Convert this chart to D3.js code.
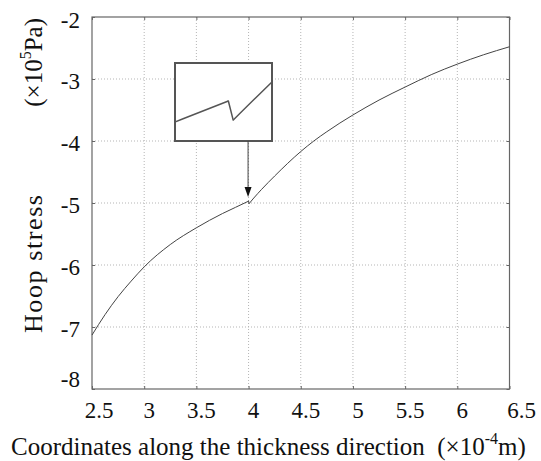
<!DOCTYPE html>
<html>
<head>
<meta charset="utf-8">
<script src="https://cdn.jsdelivr.net/npm/d3@7"></script>
<style>
  body { margin: 0; background: #fff; }
  svg text { font-family: "Liberation Serif", "Times New Roman", "DejaVu Serif", serif; fill: #111; white-space: pre; }
</style>
</head>
<body>
<svg id="chart" width="541" height="461"></svg>
<script>
// data (x in 1e-4 m, hoop stress in 1e5 Pa)
const thickness = [2.5, 2.625, 2.75, 2.875, 3.0, 3.25, 3.5, 3.75, 3.875, 4.0,
                   4.005, 4.05, 4.125, 4.25, 4.375, 4.5, 4.625, 4.75, 4.875, 5.0, 5.25, 5.5, 5.75, 6.0, 6.25, 6.5];
const hoopStress = [-7.13, -6.80, -6.51, -6.26, -6.03, -5.67, -5.40, -5.17, -5.07, -4.97,
                    -5.01, -4.92, -4.78, -4.565, -4.36, -4.17, -4.00, -3.85, -3.71, -3.58, -3.34, -3.13, -2.93, -2.76, -2.61, -2.48];
const jumpAt = 4.0;
const xTicks = [2.5, 3, 3.5, 4, 4.5, 5, 5.5, 6, 6.5];
const yTicks = [-8, -7, -6, -5, -4, -3, -2];
const insetXRange = [3.945, 4.045];
const insetYRange = [-5.054, -4.89];

const svg = d3.select("#chart");
const plotL = 92, plotR = 509.5, plotT = 17, plotB = 389;

const x = d3.scaleLinear().domain([2.5, 6.5]).range([plotL, plotR]);
const y = d3.scaleLinear().domain([-8, -2]).range([plotB, plotT]);

// grid
svg.append("g")
  .selectAll("line")
  .data(xTicks.slice(1, -1))
  .enter().append("line")
  .attr("x1", d => x(d)).attr("x2", d => x(d))
  .attr("y1", plotT).attr("y2", plotB)
  .style("stroke", "#b5b5b5").style("stroke-width", 1).style("stroke-dasharray", "1,2");
svg.append("g")
  .selectAll("line")
  .data(yTicks.slice(1, -1))
  .enter().append("line")
  .attr("y1", d => y(d)).attr("y2", d => y(d))
  .attr("x1", plotL).attr("x2", plotR)
  .style("stroke", "#b5b5b5").style("stroke-width", 1).style("stroke-dasharray", "1,2");

// axes with short inward ticks
const axisStyle = g => {
  g.select(".domain").remove();
  g.selectAll("line").style("stroke", "#666");
};
svg.append("g").attr("transform", `translate(0,${plotB})`)
  .call(d3.axisBottom(x).tickValues(xTicks).tickSize(-3).tickFormat(""))
  .call(axisStyle);
svg.append("g").attr("transform", `translate(0,${plotT})`)
  .call(d3.axisTop(x).tickValues(xTicks).tickSize(-3).tickFormat(""))
  .call(axisStyle);
svg.append("g").attr("transform", `translate(${plotL},0)`)
  .call(d3.axisLeft(y).tickValues(yTicks).tickSize(-3).tickFormat(""))
  .call(axisStyle);
svg.append("g").attr("transform", `translate(${plotR},0)`)
  .call(d3.axisRight(y).tickValues(yTicks).tickSize(-3).tickFormat(""))
  .call(axisStyle);

svg.append("rect")
  .attr("x", plotL).attr("y", plotT)
  .attr("width", plotR - plotL).attr("height", plotB - plotT)
  .style("fill", "none").style("stroke", "#666").style("stroke-width", 1.2);

// tick labels (MATLAB style nudges at the corners)
svg.append("g")
  .selectAll("text")
  .data(xTicks)
  .enter().append("text")
  .attr("x", (d, i) => x(d) + (i === 0 ? 7 : i === xTicks.length - 1 ? 12 : 5))
  .attr("y", 418)
  .attr("text-anchor", "middle")
  .style("font-size", "23px")
  .text(d => d);
svg.append("g")
  .selectAll("text")
  .data(yTicks)
  .enter().append("text")
  .attr("x", 80)
  .attr("y", (d, i) => y(d) + (i === 0 ? -2 : i === yTicks.length - 1 ? 11 : 10))
  .attr("text-anchor", "end")
  .style("font-size", "23px")
  .text(d => d);

// main curve, drawn as inner part, the jump, outer part
const pts = thickness.map((t, i) => [t, hoopStress[i]]);
const inner = pts.filter(d => d[0] <= jumpAt);
const outer = pts.filter(d => d[0] > jumpAt);
const jump = [inner[inner.length - 1], outer[0]];

function drawCurve(g, sx, sy, width, color) {
  const smooth = d3.line().x(d => sx(d[0])).y(d => sy(d[1])).curve(d3.curveMonotoneX);
  const straight = d3.line().x(d => sx(d[0])).y(d => sy(d[1]));
  [inner, outer].forEach(seg => {
    g.append("path").datum(seg).attr("d", smooth)
      .style("fill", "none").style("stroke", color).style("stroke-width", width)
      .style("stroke-linejoin", "round");
  });
  g.append("path").datum(jump).attr("d", straight)
    .style("fill", "none").style("stroke", color).style("stroke-width", width)
    .style("stroke-linejoin", "round").style("stroke-linecap", "round");
}

drawCurve(svg.append("g"), x, y, 1, "#444");

// inset zoom on the jump
const ix = d3.scaleLinear().domain(insetXRange).range([175, 272]);
const iy = d3.scaleLinear().domain(insetYRange).range([141, 63]);
svg.append("clipPath").attr("id", "insetClip")
  .append("rect").attr("x", 175).attr("y", 63).attr("width", 97).attr("height", 78);
svg.append("rect")
  .attr("x", 175).attr("y", 63).attr("width", 97).attr("height", 78)
  .style("fill", "#fff");
drawCurve(svg.append("g").attr("clip-path", "url(#insetClip)"), ix, iy, 1.5, "#555");
svg.append("rect")
  .attr("x", 175).attr("y", 63).attr("width", 97).attr("height", 78)
  .style("fill", "none").style("stroke", "#555").style("stroke-width", 2);

// arrow from inset to the jump
const ax = x(jumpAt) - 0.5;
svg.append("line")
  .attr("x1", ax).attr("x2", ax).attr("y1", 141).attr("y2", 188)
  .style("stroke", "#444").style("stroke-width", 1);
svg.append("path")
  .attr("d", `M${ax - 3.5},187 L${ax + 3.5},187 L${ax},197 Z`)
  .style("fill", "#111");

// axis titles
const xt = svg.append("text")
  .attr("x", 11).attr("y", 455)
  .attr("text-anchor", "start")
  .style("font-size", "25px");
xt.append("tspan").text("Coordinates along the thickness direction  (×10");
xt.append("tspan").attr("dy", -11).style("font-size", "16px").text("-4");
xt.append("tspan").attr("dy", 11).text("m)");

svg.append("text")
  .attr("transform", "translate(41.5,333) rotate(-90)")
  .attr("text-anchor", "start")
  .attr("textLength", 138)
  .attr("lengthAdjust", "spacing")
  .style("font-size", "26px")
  .text("Hoop stress");
const yt = svg.append("text")
  .attr("transform", "translate(41.5,18) rotate(-90)")
  .attr("text-anchor", "end")
  .style("font-size", "25px");
yt.append("tspan").text("(×10");
yt.append("tspan").attr("dy", -11).style("font-size", "16px").text("5");
yt.append("tspan").attr("dy", 11).text("Pa)");
</script>
</body>
</html>
